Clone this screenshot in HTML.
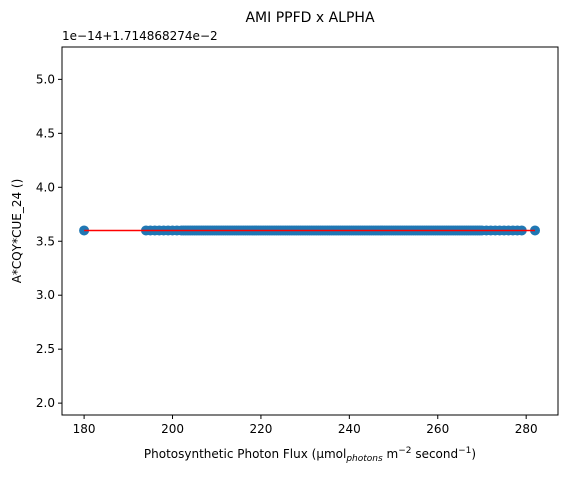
<!DOCTYPE html>
<html><head><meta charset="utf-8"><style>
body{margin:0;background:#fff;font-family:"Liberation Sans","DejaVu Sans",sans-serif;}
svg text{font-family:"DejaVu Sans","Liberation Sans",sans-serif;fill:#000;}
</style></head><body>
<svg id="chart" width="567" height="477" xmlns="http://www.w3.org/2000/svg">
<rect width="567" height="477" fill="#fff"/>
<text x="310" y="22" font-size="14" text-anchor="middle">AMI PPFD x ALPHA</text>
<text x="62" y="40" font-size="12">1e−14+1.714868274e−2</text>
<g id="plot"></g>
<rect x="62" y="47" width="496" height="368" fill="none" stroke="#000" stroke-width="1"/>
<text transform="translate(21,231) rotate(-90)" font-size="12" text-anchor="middle">A*CQY*CUE_24 ()</text>
<text x="310" y="458" font-size="12" text-anchor="middle">Photosynthetic Photon Flux (μmol<tspan font-size="9" font-style="italic" dy="3">photons</tspan><tspan dy="-3"> m</tspan><tspan font-size="9" dy="-5">−2</tspan><tspan dy="5"> second</tspan><tspan font-size="9" dy="-5">−1</tspan><tspan dy="5">)</tspan></text>
</svg>
<script>
const xValues = [180,194,195,196,197,198,199,200,201,202,202.5,203,203.5,204,204.5,205,205.5,206,206.5,207,207.5,208,208.5,209,209.5,210,210.5,211,211.5,212,212.5,213,213.5,214,214.5,215,215.5,216,216.5,217,217.5,218,218.5,219,219.5,220,220.5,221,221.5,222,222.5,223,223.5,224,224.5,225,225.5,226,226.5,227,227.5,228,228.5,229,229.5,230,230.5,231,231.5,232,232.5,233,233.5,234,234.5,235,235.5,236,236.5,237,237.5,238,238.5,239,239.5,240,240.5,241,241.5,242,242.5,243,243.5,244,244.5,245,245.5,246,246.5,247,247.5,248,248.5,249,249.5,250,250.5,251,251.5,252,252.5,253,253.5,254,254.5,255,255.5,256,256.5,257,257.5,258,258.5,259,259.5,260,260.5,261,261.5,262,262.5,263,263.5,264,264.5,265,265.5,266,266.5,267,267.5,268,268.5,269,269.5,270,271,272,273,274,275,276,277,278,279,282];
const yValue = 3.6;
const fitLine = [[180,3.6],[282,3.6]];
const xTicks = [180,200,220,240,260,280];
const yTicks = [2.0,2.5,3.0,3.5,4.0,4.5,5.0];
const ns="http://www.w3.org/2000/svg";
const X0=62,X1=558,Y0=415,Y1=47,xmin=175.0,xmax=287.2,ymin=1.89,ymax=5.30;
function sx(v){return X0+(v-xmin)/(xmax-xmin)*(X1-X0);}
function sy(v){return Y0-(v-ymin)/(ymax-ymin)*(Y0-Y1);}
const g=document.getElementById('plot');
function mk(t,a){const e=document.createElementNS(ns,t);for(const k in a)e.setAttribute(k,a[k]);g.appendChild(e);return e;}
xTicks.forEach(v=>{
  const l=mk('line',{x1:sx(v),x2:sx(v),y1:Y0,y2:Y0+4,stroke:'#000'});
  
  
  const t=mk('text',{x:sx(v),y:Y0+18,'font-size':12,'text-anchor':'middle'});t.textContent=v;
  
  
});
yTicks.forEach(v=>{
  const l=mk('line',{x1:X0-4,x2:X0,y1:sy(v),y2:sy(v),stroke:'#000'});
  
  
  const t=mk('text',{x:X0-7,y:sy(v)+4,'font-size':12,'text-anchor':'end'});t.textContent=v.toFixed(1);
  
  
});
xValues.forEach(v=>{
  const c=mk('circle',{cx:sx(v),cy:sy(yValue),r:5,fill:'#1f77b4'});
  
  
});
const ln=mk('line',{x1:sx(fitLine[0][0]),y1:sy(fitLine[0][1]),x2:sx(fitLine[1][0]),y2:sy(fitLine[1][1]),stroke:'#ff0000','stroke-width':1.5});


</script>
</body></html>
